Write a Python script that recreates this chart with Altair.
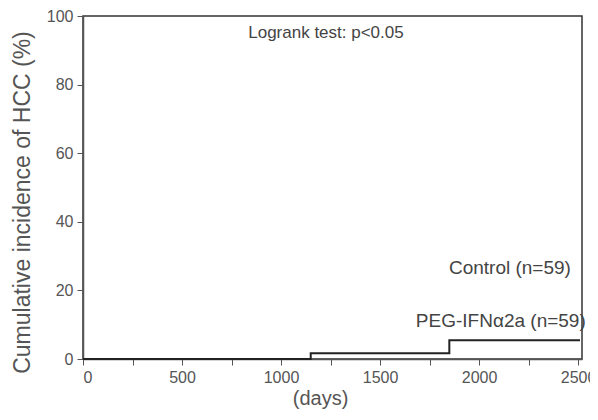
import altair as alt
import pandas as pd

# Kaplan-Meier style step curve (PEG-IFNa2a group)
days = [0, 1150, 1850, 2510]
incidence = [0.0, 1.7, 5.5, 5.5]

ann_text = ["Logrank test: p<0.05", "Control (n=59)", "PEG-IFNα2a (n=59)"]
ann_x = [1227, 2156, 2110]
ann_y = [95.0, 26.5, 11.0]
ann_size = [17, 19, 19]

x_ticks = list(range(0, 2501, 250))
y_ticks = list(range(0, 101, 10))

df = pd.DataFrame({"days": days, "inc": incidence})
ann = pd.DataFrame({"text": ann_text, "x": ann_x, "y": ann_y, "size": ann_size})

FONT = "Liberation Sans"
GRAY = "#555555"

x_scale = alt.Scale(domain=[0, 2520], nice=False, zero=False)
y_scale = alt.Scale(domain=[0, 100], nice=False)

line = alt.Chart(df).mark_line(interpolate="step-after", color="#222222", strokeWidth=2).encode(
    x=alt.X("days:Q", scale=x_scale, title="(days)",
            axis=alt.Axis(values=x_ticks, format="d",
                          labelExpr="datum.value % 500 == 0 ? datum.label : ''",
                          grid=False, tickSize=6, labelPadding=4,
                          titleX=237, titleAlign="center")),
    y=alt.Y("inc:Q", scale=y_scale, title="Cumulative incidence of HCC (%)",
            axis=alt.Axis(values=y_ticks, format="d",
                          labelExpr="datum.value % 20 == 0 ? datum.label : ''",
                          grid=False, tickSize=6, labelPadding=4,
                          titleY=186)),
)

text = alt.Chart(ann).mark_text(font=FONT, color="#444444", align="center").encode(
    x=alt.X("x:Q", scale=x_scale),
    y=alt.Y("y:Q", scale=y_scale),
    text="text:N",
    size=alt.Size("size:Q", scale=None, legend=None),
)

chart = alt.layer(line, text).properties(
    width=499, height=343,
    autosize=alt.AutoSizeParams(type="none"),
    padding={"left": 75, "top": 8, "right": 8, "bottom": 53},
).configure_view(
    stroke="#333333", strokeWidth=1.5
).configure_axis(
    labelFont=FONT, titleFont=FONT, labelFontSize=16,
    labelColor=GRAY, titleColor=GRAY, domainColor="#555555", tickColor="#555555",
    titleFontWeight="normal", domainWidth=1.5,
).configure_axisY(titlePadding=12, titleFontSize=23).configure_axisX(titlePadding=3, titleFontSize=20)

chart.save("out.html", embed_options={"renderer": "svg", "actions": False})
